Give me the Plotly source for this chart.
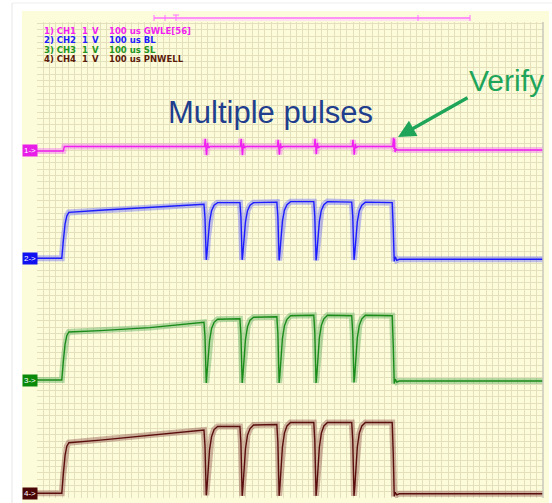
import plotly.graph_objects as go

# ---------------- data (time in microseconds, volts relative to channel ground) ----------------
t_ch1 = [0, 52, 54,
         331, 332.5, 333.5, 335, 337, 339, 342,
         402, 403.5, 404.5, 406, 408, 410, 413,
         475, 476.5, 477.5, 479, 481, 483, 486,
         548, 549.5, 550.5, 552, 554, 556, 559,
         623, 624.5, 625.5, 627, 629, 631, 634,
         703, 704.5, 705.5, 706.5, 707.5, 709, 711, 1000]
v_ch1 = [-0.02, -0.02, 0.07,
         0.07, 0.22, -0.06, -0.10, 0.14, 0.04, 0.07,
         0.07, 0.22, -0.06, -0.10, 0.13, 0.04, 0.07,
         0.07, 0.20, -0.05, -0.09, 0.13, 0.04, 0.07,
         0.07, 0.22, -0.06, -0.08, 0.14, 0.04, 0.07,
         0.07, 0.20, -0.05, -0.09, 0.12, 0.04, 0.07,
         0.07, 0.24, 0.02, 0.22, -0.04, 0.03, 0.0, 0.0]

t_pulse = [0, 49, 52, 55.5, 59, 63, 125, 223, 330,
           332, 334.5, 336, 338, 341, 345, 350, 357, 401,
           403, 405.5, 407, 409, 412, 416, 421, 428, 474,
           476, 478.5, 480, 482, 485, 489, 494, 501, 547,
           549, 551.5, 553, 555, 558, 562, 567, 574, 622,
           624, 626.5, 628, 630, 633, 637, 642, 649, 702,
           704, 706, 708, 711, 716, 1000]
v_ch2 = [0, 0, 0.345, 0.68, 0.84, 0.907, 0.95, 1.01, 1.067,
         0.80, -0.03, 0.11, 0.42, 0.72, 0.94, 1.05, 1.10, 1.10,
         0.82, -0.03, 0.11, 0.42, 0.72, 0.94, 1.05, 1.10, 1.11,
         0.83, -0.04, 0.11, 0.43, 0.73, 0.95, 1.06, 1.12, 1.12,
         0.83, -0.04, 0.10, 0.43, 0.73, 0.95, 1.06, 1.12, 1.11,
         0.83, -0.03, 0.10, 0.42, 0.72, 0.94, 1.05, 1.11, 1.10,
         0.60, -0.06, 0.03, -0.04, -0.02, -0.02]
v_ch3 = [0, 0, 0.36, 0.71, 0.88, 0.95, 0.975, 1.035, 1.14,
         0.86, -0.06, 0.10, 0.46, 0.78, 1.02, 1.14, 1.20, 1.21,
         0.90, -0.06, 0.10, 0.47, 0.80, 1.05, 1.18, 1.24, 1.25,
         0.93, -0.06, 0.10, 0.48, 0.82, 1.07, 1.20, 1.27, 1.28,
         0.94, -0.06, 0.10, 0.49, 0.83, 1.08, 1.21, 1.28, 1.27,
         0.93, -0.05, 0.10, 0.49, 0.83, 1.08, 1.21, 1.28, 1.27,
         0.70, -0.07, 0.02, -0.04, -0.02, -0.02]
v_ch4 = [0, 0, 0.38, 0.75, 0.93, 1.0, 1.05, 1.15, 1.25,
         0.94, -0.04, 0.12, 0.50, 0.86, 1.12, 1.26, 1.32, 1.32,
         0.99, -0.05, 0.12, 0.51, 0.88, 1.15, 1.28, 1.35, 1.36,
         1.02, -0.05, 0.12, 0.53, 0.91, 1.19, 1.33, 1.40, 1.40,
         1.05, -0.05, 0.12, 0.53, 0.91, 1.19, 1.33, 1.40, 1.40,
         1.05, -0.05, 0.12, 0.53, 0.91, 1.19, 1.33, 1.40, 1.40,
         0.80, -0.06, 0.02, -0.03, -0.01, -0.01]

channel_ids = ["1)", "2)", "3)", "4)"]
channel_names = ["CH1", "CH2", "CH3", "CH4"]
volts_per_div = ["1", "1", "1", "1"]
volt_unit = ["V", "V", "V", "V"]
time_per_div = ["100 us", "100 us", "100 us", "100 us"]
signal_names = ["GWLE[56]", "BL", "SL", "PNWELL"]
marker_labels = ["1->", "2->", "3->", "4->"]
channel_offsets = [6.877, 4.737, 2.332, 0.093]

# ---------------- styles ----------------
line_colors = ["#f01ef0", "#1c1cff", "#1a8c1a", "#5a0e0e"]
halo_colors = ["#f060f0", "#6060ff", "#50a850", "#8a4a40"]
text_colors = ["#f01ef0", "#1c1cff", "#1e961e", "#5a1a0a"]
box_colors = ["#e81ee8", "#1010f0", "#0a8a0a", "#4a0606"]

W, H = 552, 503
L, R, T, B = 37, 9, 22, 5
PW, PH = W - L - R, H - T - B
X_RANGE = [0, 1000]
Y_RANGE = [0, PH / 50.6]


def px(x):
    return (x - L) / PW


def py(y):
    return (H - B - y) / PH


series = [(t_ch1, v_ch1), (t_pulse, v_ch2), (t_pulse, v_ch3), (t_pulse, v_ch4)]

fig = go.Figure()
for i, (tt, vv) in enumerate(series):
    yy = [v + channel_offsets[i] for v in vv]
    fig.add_trace(go.Scatter(x=tt, y=yy, mode="lines",
                             line=dict(color=halo_colors[i], width=6),
                             opacity=0.4, hoverinfo="skip", showlegend=False))
    fig.add_trace(go.Scatter(x=tt, y=yy, mode="lines",
                             line=dict(color=line_colors[i], width=1.4),
                             hoverinfo="skip", showlegend=False))

annotations = []
font_fam = "Liberation Sans, Arial, sans-serif"
legend_fam = "DejaVu Sans, Verdana, sans-serif"
row_y = [31, 40.4, 49.8, 59.2]
col_x = [43, 80.5, 90.5, 108.3]
for i in range(4):
    cols = [f"{channel_ids[i]} {channel_names[i]}", volts_per_div[i], volt_unit[i],
            f"{time_per_div[i]} {signal_names[i]}"]
    for cx, txt in zip(col_x, cols):
        annotations.append(dict(xref="paper", yref="paper", x=px(cx), y=py(row_y[i]),
                                xanchor="left", yanchor="middle", showarrow=False,
                                text=f"<b>{txt}</b>", borderpad=0,
                                font=dict(family=legend_fam, size=8.5, color=text_colors[i])))
    annotations.append(dict(xref="paper", yref="y", x=px(22), y=channel_offsets[i],
                            xanchor="left", yanchor="middle", showarrow=False,
                            text=marker_labels[i], bgcolor=box_colors[i],
                            font=dict(family=font_fam, size=8, color="white"),
                            borderpad=1))

# callout texts
annotations.append(dict(xref="paper", yref="paper", x=px(270.5), y=py(112),
                        xanchor="center", yanchor="middle", showarrow=False,
                        text="Multiple pulses",
                        font=dict(family=font_fam, size=31, color="#1f3e8e")))
annotations.append(dict(xref="paper", yref="paper", x=px(467), y=py(80),
                        xanchor="left", yanchor="middle", showarrow=False,
                        text="Verify",
                        font=dict(family=font_fam, size=30, color="#1ea55a")))
annotations.append(dict(xref="paper", yref="paper", x=px(398), y=py(137),
                        ax=71, ay=-40, text="", showarrow=True,
                        arrowhead=2, arrowsize=1.0, arrowwidth=3.5,
                        arrowcolor="#1ea55a", standoff=0))

shapes = [
    # slide frame hints
    dict(type="line", xref="paper", yref="paper", x0=px(12), x1=px(12), y0=py(3), y1=py(503),
         line=dict(color="#e6e6e6", width=1), layer="below"),
    dict(type="line", xref="paper", yref="paper", x0=px(12), x1=px(552), y0=py(3), y1=py(3),
         line=dict(color="#eeeeee", width=1), layer="below"),
    # scope panel
    dict(type="rect", xref="paper", yref="paper", x0=px(22), x1=px(549), y0=py(503), y1=py(11),
         fillcolor="#fdfcda", line=dict(width=0), layer="below"),
    # right border of graticule
    dict(type="line", xref="paper", yref="paper", x0=1, x1=1, y0=0, y1=1,
         line=dict(color="#c8c8bc", width=1.5)),
    # time-base bar
    dict(type="line", xref="paper", yref="paper", x0=px(154), x1=px(470), y0=py(18), y1=py(18),
         line=dict(color="#ff70ff", width=1.3)),
    dict(type="line", xref="paper", yref="paper", x0=px(176), x1=px(470), y0=py(20), y1=py(20),
         line=dict(color="#ffc8ff", width=1)),
]
for tx in [154, 165, 418, 470]:
    shapes.append(dict(type="line", xref="paper", yref="paper", x0=px(tx), x1=px(tx),
                       y0=py(15), y1=py(21), line=dict(color="#ff70ff", width=1)))
shapes.append(dict(type="line", xref="paper", yref="paper", x0=px(176), x1=px(176),
                   y0=py(15), y1=py(21), line=dict(color="#ff70ff", width=1)))
shapes.append(dict(type="line", xref="paper", yref="paper", x0=px(173), x1=px(179),
                   y0=py(15), y1=py(15), line=dict(color="#ff70ff", width=1)))

grid_col = "#e4e0bc"
fig.update_layout(
    width=W, height=H, margin=dict(l=L, r=R, t=T, b=B),
    paper_bgcolor="white", plot_bgcolor="#fdfcda",
    xaxis=dict(range=X_RANGE, dtick=12.5, tick0=0, showgrid=True, gridcolor=grid_col,
               gridwidth=1, zeroline=False, showticklabels=False, ticks="", showline=False,
               fixedrange=True),
    yaxis=dict(range=Y_RANGE, dtick=0.125, tick0=0, showgrid=True, gridcolor=grid_col,
               gridwidth=1, zeroline=False, showticklabels=False, ticks="", showline=False,
               fixedrange=True),
    annotations=annotations, shapes=shapes, showlegend=False,
)

fig.write_html("out.html")
